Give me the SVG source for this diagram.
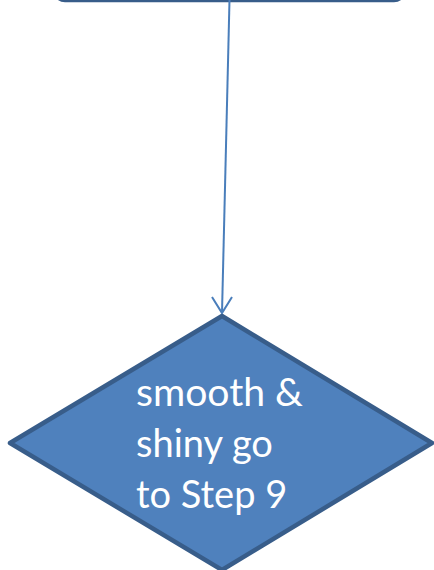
<svg xmlns="http://www.w3.org/2000/svg" width="434" height="570" viewBox="0 0 434 570">
<style>
.shape{fill:#4f81bd;stroke:#385d8a;stroke-width:4.5;stroke-linejoin:round}
.lbl{font-family:Lato,"Open Sans","Liberation Sans",sans-serif;font-size:38px;fill:#ffffff}
.conn{fill:none;stroke:#4a7ebb;stroke-width:2}
</style>
<g id="prev-node">
<rect class="shape" x="55" y="-80" width="349" height="80" rx="10" ry="10"/>
</g>
<g id="connectors">
<line class="conn" x1="229.5" y1="0" x2="222" y2="313"/>
<polyline class="conn" points="212,297 222,313 232,297"/>
</g>
<g id="decision">
<polygon class="shape" points="222,316 432,443 222,570 10,443"/>
<text class="lbl" x="136" y="406" textLength="167" lengthAdjust="spacingAndGlyphs">smooth &amp;</text>
<text class="lbl" x="136" y="457">shiny go</text>
<text class="lbl" x="136" y="508">to Step 9</text>
</g>
</svg>
